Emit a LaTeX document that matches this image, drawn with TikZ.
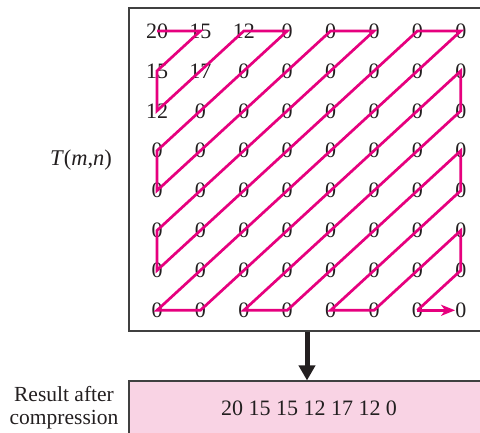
\documentclass[tikz,border=0pt]{standalone}
\usepackage{fontspec}
\setmainfont{Liberation Serif}
\usetikzlibrary{arrows.meta}
\definecolor{zig}{RGB}{230,0,126}
\definecolor{ink}{RGB}{35,31,32}
\definecolor{rpink}{RGB}{249,211,228}
\expandafter\def\csname cv-1-1\endcsname{20}
\expandafter\def\csname cv-1-2\endcsname{15}
\expandafter\def\csname cv-1-3\endcsname{12}
\expandafter\def\csname cv-2-1\endcsname{15}
\expandafter\def\csname cv-2-2\endcsname{17}
\expandafter\def\csname cv-3-1\endcsname{12}
\begin{document}
\begin{tikzpicture}[x=1pt,y=-1pt,
  every node/.style={font=\fontsize{21.5}{23}\selectfont, text=ink},
  cell/.style={inner sep=0pt, font=\fontsize{22}{24}\selectfont},
  frame/.style={draw=black!75, line width=1.1pt, inner sep=0pt},
  zigline/.style={draw=zig, line width=2.7pt, line join=miter},
  bigarrow/.style={draw=ink, line width=5pt, -{Triangle[length=15pt,width=16pt]}}]
\useasboundingbox (0,0) rectangle (480,433);
% frames
\node[frame, minimum width=356pt, minimum height=323pt] (grid) at (307,169.5) {};
\node[frame, fill=rpink, minimum width=356pt, minimum height=54pt] (result) at (307,408) {};
\node[font=\fontsize{22}{24}\selectfont] at ([xshift=2pt]result.center) {20 15 15 12 17 12 0};
\node[align=center, font=\fontsize{21.5}{23}\selectfont] (lbl) at (64,408) {Result after\\compression};
\node[font=\fontsize{22.5}{24}\selectfont] (tmn) at (81,160) {\textit{T}(\textit{m},\textit{n})};
% grid values
\foreach \r in {1,...,8}{
  \foreach \c in {1,...,8}{
    \ifcsname cv-\r-\c\endcsname
      \edef\cellval{\csname cv-\r-\c\endcsname}%
    \else
      \def\cellval{0}%
    \fi
    \node[cell] (n-\r-\c) at ({157+43.4*(\c-1)},{31+39.9*(\r-1)}) {\cellval};
  }
}
% zigzag
\draw[zigline] (n-1-1.center) -- (n-1-2.center) -- (n-2-1.center) -- (n-3-1.center)
  -- (n-1-3.center) -- (n-1-4.center) -- (n-4-1.center) -- (n-5-1.center)
  -- (n-1-5.center) -- (n-1-6.center) -- (n-6-1.center) -- (n-7-1.center)
  -- (n-1-7.center) -- (n-1-8.center) -- (n-8-1.center) -- (n-8-2.center)
  -- (n-2-8.center) -- (n-3-8.center) -- (n-8-3.center) -- (n-8-4.center)
  -- (n-4-8.center) -- (n-5-8.center) -- (n-8-5.center) -- (n-8-6.center)
  -- (n-6-8.center) -- (n-7-8.center) -- (n-8-7.center);
\draw[zigline, -{Stealth[length=14pt,width=11pt,inset=4pt]}] (n-8-7.center) -- (n-8-8.west);
% arrow
\draw[bigarrow] (grid.south) -- (result.north);
\end{tikzpicture}
\end{document}
